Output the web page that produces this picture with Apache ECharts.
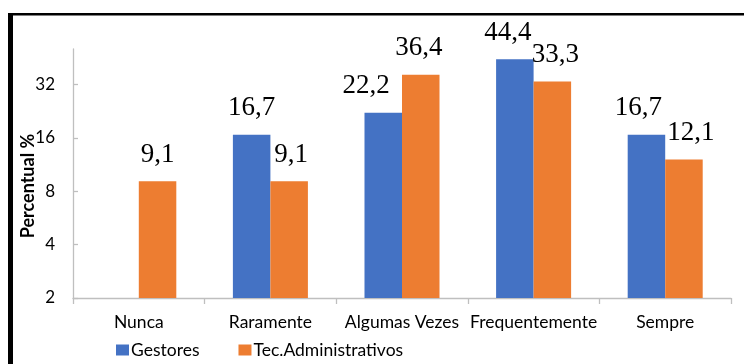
<!DOCTYPE html>
<html>
<head>
<meta charset="utf-8">
<script src="https://cdn.jsdelivr.net/npm/echarts@6/dist/echarts.min.js"></script>
<style>
  html, body { margin: 0; padding: 0; background: #fff; }
  #chart { width: 744px; height: 364px; }
</style>
</head>
<body>
<div id="chart"></div>
<script>
// Frequency of each answer, in percent, for the two respondent groups
const categories = ['Nunca', 'Raramente', 'Algumas Vezes', 'Frequentemente', 'Sempre'];
const gestores = [null, 16.7, 22.2, 44.4, 16.7];
const tecAdministrativos = [9.1, 9.1, 36.4, 33.3, 12.1];
const yTicks = [2, 4, 8, 16, 32];
const seriesNames = ['Gestores', 'Tec.Administrativos'];

// horizontal nudges that keep neighbouring value labels apart
const gestoresLabelShift = [0, 0, -17, -7, -8];
const tecLabelShift = [0, 2, -2, 3, 7];

const sansFont = 'Lato';
const axisGrey = '#bfbfbf';

function fmt(v) {
  return v.toFixed(1).replace('.', ',');
}

function buildData(values, shifts) {
  return values.map((v, i) => ({
    value: v,
    label: { offset: [shifts[i], 0] }
  }));
}

const valueLabel = {
  show: true,
  position: 'top',
  distance: 13,
  fontFamily: 'Liberation Serif',
  fontSize: 27,
  color: '#000',
  formatter: p => (p.value == null ? '' : fmt(p.value))
};

const chart = echarts.init(document.getElementById('chart'), null, { renderer: 'canvas' });

chart.setOption({
  animation: false,
  backgroundColor: '#fff',
  grid: { left: 73, right: 13, top: 49, bottom: 66 },
  xAxis: {
    type: 'category',
    data: categories,
    axisLine: { lineStyle: { color: axisGrey, width: 1.3 } },
    axisTick: { show: true, length: 6, lineStyle: { color: axisGrey, width: 1.3 } },
    axisLabel: { interval: 0, fontFamily: sansFont, fontSize: 17.5, color: '#000', margin: 15 }
  },
  yAxis: {
    type: 'log',
    logBase: 2,
    min: 2,
    max: 50.8,
    splitLine: { show: false },
    axisLine: { show: true, lineStyle: { color: axisGrey, width: 1.3 } },
    axisTick: { show: true, inside: true, length: 5, customValues: yTicks, lineStyle: { color: axisGrey, width: 1.3 } },
    axisLabel: { fontFamily: sansFont, fontSize: 17, color: '#000', margin: 18, customValues: yTicks }
  },
  legend: {
    data: seriesNames,
    left: 116,
    top: 341,
    padding: 0,
    itemWidth: 13,
    itemHeight: 11,
    itemGap: 39,
    icon: 'rect',
    textStyle: { fontFamily: sansFont, fontSize: 17.5, color: '#000', padding: [0, 0, 0, -3] }
  },
  series: [
    {
      name: seriesNames[0],
      type: 'bar',
      data: buildData(gestores, gestoresLabelShift),
      itemStyle: { color: '#4472C4' },
      barGap: '0%',
      barCategoryGap: '43%',
      label: valueLabel
    },
    {
      name: seriesNames[1],
      type: 'bar',
      data: buildData(tecAdministrativos, tecLabelShift),
      itemStyle: { color: '#ED7D31' },
      barGap: '0%',
      barCategoryGap: '43%',
      label: valueLabel
    }
  ],
  graphic: [
    // frame around the figure
    { type: 'rect', left: 8, top: 13, shape: { width: 5, height: 351 }, style: { fill: '#000' } },
    { type: 'rect', left: 8, top: 13, shape: { width: 736, height: 2.5 }, style: { fill: '#000' } },
    {
      type: 'text',
      x: 28,
      y: 186,
      rotation: Math.PI / 2,
      style: {
        text: 'Percentual %',
        font: 'bold 18px ' + sansFont,
        fill: '#000',
        align: 'center',
        verticalAlign: 'middle'
      }
    }
  ]
});
</script>
</body>
</html>
